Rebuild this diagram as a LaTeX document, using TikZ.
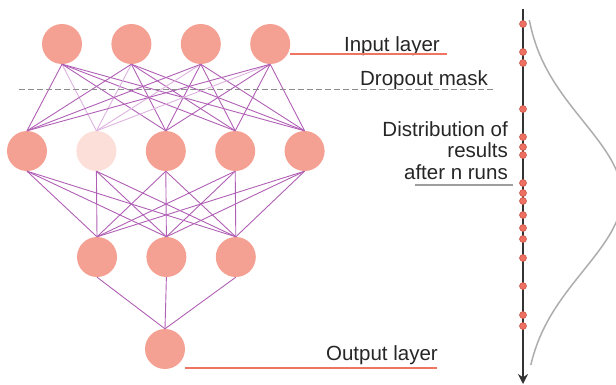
\documentclass[tikz,border=0pt]{standalone}
\usepackage{fontspec}
\setmainfont{Liberation Sans}
\usepackage{tikz}
\usetikzlibrary{arrows, arrows.meta, positioning}
\definecolor{neuronfill}{HTML}{F4A193}
\definecolor{dropfill}{HTML}{FBDFD8}
\definecolor{linkcol}{HTML}{B060B4}
\definecolor{fadecol}{HTML}{DDB2DF}
\definecolor{redline}{HTML}{F07462}
\definecolor{dotfill}{HTML}{EE7062}
\definecolor{dotdraw}{HTML}{C4503F}
\tikzstyle{neuron} = [circle, fill=neuronfill, minimum size=40pt, inner sep=0pt]
\tikzstyle{dropped} = [neuron, fill=dropfill]
\tikzstyle{link} = [draw=linkcol, line width=0.9pt]
\tikzstyle{fadedlink} = [draw=fadecol, line width=0.9pt]
\tikzstyle{underline} = [draw=redline, line width=1.8pt]
\tikzstyle{maskline} = [draw=black!45, line width=1pt, dash pattern=on 6pt off 3pt]
\tikzstyle{caption} = [inner sep=0pt, anchor=base east, font=\fontsize{20.5}{21.5}\selectfont, text=black!85]
\tikzstyle{axisarrow} = [draw=black!80, line width=1.5pt, -{Stealth[length=10pt, width=10pt]}]
\tikzstyle{dot} = [circle, fill=dotfill, draw=dotdraw, line width=0.5pt, minimum size=7pt, inner sep=0pt]
\tikzset{
	runcurve/.style = {draw=black!32, line width=1.5pt}
}

\begin{document}
\begin{tikzpicture}[x=1pt, y=-1pt, node distance=29pt]
\useasboundingbox (0,0) rectangle (616,384);
\clip (0,0) rectangle (616,384);
%----------------------------------------------------------------------------
% Network nodes
\node (in1) [neuron] at (62,44) {};
\node (in2) [neuron, right = of in1] {};
\node (in3) [neuron, right = of in2] {};
\node (in4) [neuron, right = of in3] {};

\node (h1) [neuron] at (27,151) {};
\node (h2) [dropped, right = of h1] {};
\node (h3) [neuron, right = of h2] {};
\node (h4) [neuron, right = of h3] {};
\node (h5) [neuron, right = of h4] {};

\node (k1) [neuron] at (97,257) {};
\node (k2) [neuron, right = of k1] {};
\node (k3) [neuron, right = of k2] {};

\node (out) [neuron] at (165,349) {};

%----------------------------------------------------------------------------
% Connections
\foreach \i in {1,...,4} {
	\draw [fadedlink] (in\i.south) -- (h2.north);
	\foreach \j in {1,3,4,5}
		\draw [link] (in\i.south) -- (h\j.north);
}
\foreach \i in {1,...,5}
	\foreach \j in {1,2,3}
		\draw [link] (h\i.south) -- (k\j.north);
\foreach \j in {1,2,3}
	\draw [link] (k\j.south) -- (out.north);

%----------------------------------------------------------------------------
% Labels
\node (inText) [caption] at (440,51) {Input layer};
\coordinate (inLineEnd) at (447,54);
\draw [underline] (in4.east |- inLineEnd) -- (inLineEnd);

\node (maskText) [caption] at (488,85) {Dropout mask};
\coordinate (maskStart) at (19,89);
\coordinate (maskEnd) at (493,89);
\draw [maskline] (maskStart) -- (maskEnd);

\node (distText) [caption, align=right] at (508,179) {Distribution of\\results\\after n runs};
\coordinate (distStart) at (415,185);
\coordinate (distEnd) at (513,185);
\draw [draw=black!38, line width=1.6pt] (distStart) -- (distEnd);

\node (outText) [caption] at (438,360) {Output layer};
\coordinate (outLineEnd) at (437,368);
\draw [underline] (out.east |- outLineEnd) -- (outLineEnd);

%----------------------------------------------------------------------------
% Distribution of runs
\coordinate (axisTop) at (523,9);
\coordinate (axisEnd) at (523,384);
\draw [axisarrow] (axisTop) -- (axisEnd);
\draw [runcurve] plot[domain=20:365, samples=90, smooth] ({523+99*exp(-((\x-196)/75)^2/2)}, \x);
\foreach \y in {24,52,63,109,137,147,155,183,193,201,215,228,239,258,286,315,326}
	\node (run\y) [dot] at (523,\y) {};

\end{tikzpicture}
\end{document}
